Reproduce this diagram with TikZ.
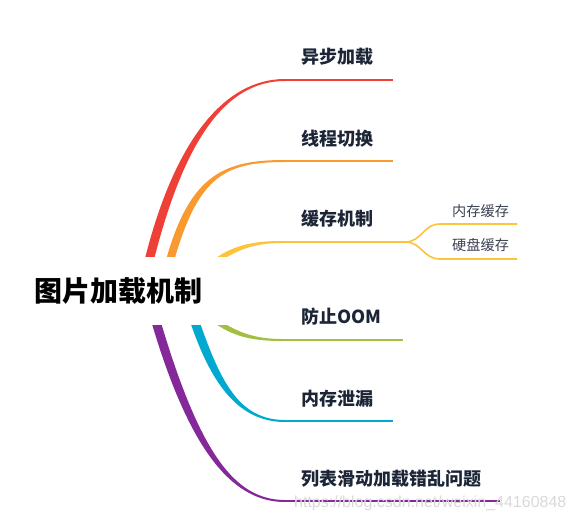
\documentclass[tikz,border=0pt]{standalone}
\usepackage{fontspec}
\newfontfamily\cjk{Noto Sans CJK SC}
\newfontfamily\wmfont{Liberation Sans}
\usetikzlibrary{calc}
\definecolor{cRed}{HTML}{EE4037}
\definecolor{cOra}{HTML}{F89A30}
\definecolor{cYel}{HTML}{FDC33A}
\definecolor{cGrn}{HTML}{A2BF40}
\definecolor{cCya}{HTML}{00A9CF}
\definecolor{cPur}{HTML}{85299A}
\definecolor{lblC}{HTML}{1C2536}
\definecolor{subC}{HTML}{3A4150}
\tikzset{
  lbl/.style={anchor=west, inner sep=0pt, font=\cjk\bfseries\fontsize{18}{18}\selectfont, text=lblC},
  sublbl/.style={anchor=west, inner sep=0pt, font=\cjk\fontsize{14.2}{14}\selectfont, text=subC},
  rootnode/.style={fill=white, inner sep=0pt, minimum width=230pt, minimum height=68pt,
    font=\cjk\bfseries\fontsize{28}{28}\selectfont, text=black},
  hline/.style={line width=2pt},
  subline/.style={line width=1.6pt},
  wmark/.style={anchor=west, inner sep=0pt, font=\wmfont\fontsize{16}{16}\selectfont, text=gray!30}
}
% tapered branch: #1 root, #2 first control, #3 second control, #4 start of horizontal, #5 colour, #6 half width at root
\newcommand\mmbranch[6]{%
  \coordinate (mmB) at ($(#1)!-14pt!(#2)$);
  \fill[#5] ($(mmB)!#6!90:(#2)$) -- ($(#1)!#6!90:(#2)$)
     .. controls ($(#2)!#6!-90:(#1)$) and ($(#3)+(0,1pt)$) .. ($(#4)+(0,1pt)$)
     -- ($(#4)+(0,-1pt)$)
     .. controls ($(#3)+(0,-1pt)$) and ($(#2)!#6!90:(#1)$) .. ($(#1)!#6!-90:(#2)$)
     -- ($(mmB)!#6!-90:(#2)$) -- cycle;
}
\begin{document}
\begin{tikzpicture}[x=1pt,y=-1pt]
\useasboundingbox (0,0) rectangle (575,522);
% branch geometry
\coordinate (r1) at (150,257); \coordinate (c1a) at (180,140); \coordinate (c1b) at (225,80);  \coordinate (h1) at (285,80);  \coordinate (e1) at (393,80);
\coordinate (r2) at (171,257); \coordinate (c2a) at (195,175); \coordinate (c2b) at (225,161); \coordinate (h2) at (285,161); \coordinate (e2) at (393,161);
\coordinate (r3) at (222,257); \coordinate (c3a) at (240,246); \coordinate (c3b) at (258,242); \coordinate (h3) at (282,242); \coordinate (j3) at (405,242);
\coordinate (s1) at (440,224); \coordinate (se1) at (517,224);
\coordinate (s2) at (440,259); \coordinate (se2) at (517,259);
\coordinate (r4) at (222,325); \coordinate (c4a) at (240,336); \coordinate (c4b) at (258,340); \coordinate (h4) at (282,340); \coordinate (e4) at (403,340);
\coordinate (r5) at (196,325); \coordinate (c5a) at (217,385); \coordinate (c5b) at (240,421); \coordinate (h5) at (285,421); \coordinate (e5) at (393,421);
\coordinate (r6) at (157,325); \coordinate (c6a) at (196,455); \coordinate (c6b) at (235,501); \coordinate (h6) at (285,501); \coordinate (e6) at (500,501);

\mmbranch{r1}{c1a}{c1b}{h1}{cRed}{4.5pt}
\mmbranch{r2}{c2a}{c2b}{h2}{cOra}{4pt}
\mmbranch{r3}{c3a}{c3b}{h3}{cYel}{2.5pt}
\mmbranch{r4}{c4a}{c4b}{h4}{cGrn}{2.5pt}
\mmbranch{r5}{c5a}{c5b}{h5}{cCya}{4.5pt}
\mmbranch{r6}{c6a}{c6b}{h6}{cPur}{4.5pt}

% root topic (white box hides the branch roots)
\node[rootnode] (root) at (118.5,291) {图片加载机制};

% horizontal lines
\draw[hline, cRed] (h1) -- (e1);
\draw[hline, cOra] (h2) -- (e2);
\draw[hline, cYel] (h3) -- (j3);
\draw[hline, cGrn] (h4) -- (e4);
\draw[hline, cCya] (h5) -- (e5);
\draw[hline, cPur] (h6) -- (e6);
% sub branches
\draw[subline, cYel] (j3) .. controls +(17,0) and +(-17,0) .. (s1) -- (se1);
\draw[subline, cYel] (j3) .. controls +(17,0) and +(-17,0) .. (s2) -- (se2);

% labels
\node[lbl] (t1) at (301,56.5) {异步加载};
\node[lbl] (t2) at (301,138.5) {线程切换};
\node[lbl] (t3) at (301,218.5) {缓存机制};
\node[lbl] (t4) at (301,317) {防止OOM};
\node[lbl] (t5) at (301,398.5) {内存泄漏};
\node[lbl] (t6) at (301,478.5) {列表滑动加载错乱问题};
\node[sublbl] (u1) at (452,211.5) {内存缓存};
\node[sublbl] (u2) at (452,245) {硬盘缓存};

% watermark
\node[wmark] (wm) at (294,503) {https://blog.csdn.net/weixin\_44160848};
\end{tikzpicture}
\end{document}
